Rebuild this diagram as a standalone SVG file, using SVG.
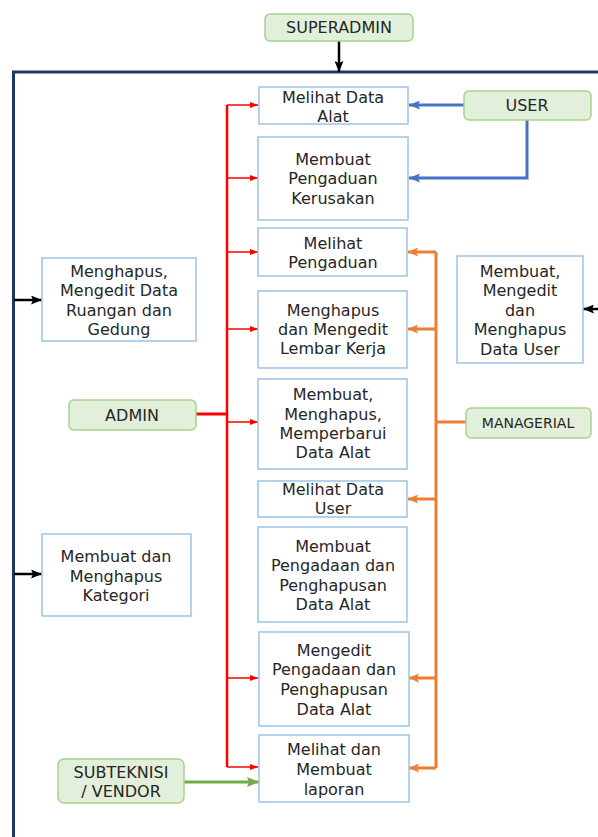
<svg xmlns="http://www.w3.org/2000/svg" width="598" height="837" viewBox="0 0 598 837">
<style>
.box{fill:#fff;stroke:#9dc3e6;stroke-width:1.5}
.act{fill:#e2efda;stroke:#a9d18e;stroke-width:1.5}
text{font-family:"DejaVu Sans","Open Sans",sans-serif;font-size:16px;fill:#262626;text-anchor:middle;dominant-baseline:central}
.red{stroke:#ff0000;fill:none}
.org{stroke:#ed7d31;fill:none;stroke-width:3}
.blu{stroke:#4472c4;fill:none;stroke-width:3}
.blk{stroke:#000;fill:none;stroke-width:2.5}
.grn{stroke:#70ad47;fill:none;stroke-width:3}
</style>
<defs>
<marker id="mr" markerWidth="8" markerHeight="6" refX="8" refY="3" orient="auto" markerUnits="userSpaceOnUse"><path d="M0,0L8,3L0,6z" fill="#ff0000"/></marker>
<marker id="mo" markerWidth="10" markerHeight="9" refX="10" refY="4.5" orient="auto" markerUnits="userSpaceOnUse"><path d="M0,0L10,4.5L0,9L2,4.5z" fill="#ed7d31"/></marker>
<marker id="mb" markerWidth="11" markerHeight="9" refX="11" refY="4.5" orient="auto" markerUnits="userSpaceOnUse"><path d="M0,0L11,4.5L0,9L2,4.5z" fill="#4472c4"/></marker>
<marker id="mk" markerWidth="11" markerHeight="9" refX="11" refY="4.5" orient="auto" markerUnits="userSpaceOnUse"><path d="M0,0L11,4.5L0,9L2,4.5z" fill="#000"/></marker>
<marker id="mg" markerWidth="12" markerHeight="10" refX="12" refY="5" orient="auto" markerUnits="userSpaceOnUse"><path d="M0,0L12,5L0,10L2,5z" fill="#70ad47"/></marker>
</defs>
<rect width="598" height="837" fill="#fff"/>
<g id="connectors">
<path d="M13.5,837V72H598" stroke="#1f3864" stroke-width="3" fill="none"/>
<path class="blk" d="M339,41V72" marker-end="url(#mk)"/>
<path class="blk" d="M14,300H42" marker-end="url(#mk)"/>
<path class="blk" d="M14,574H42" marker-end="url(#mk)"/>
<path class="blk" d="M598,309H583" marker-end="url(#mk)"/>
<path class="blu" d="M464,105H409" marker-end="url(#mb)"/>
<path class="blu" d="M527,120V178H409" marker-end="url(#mb)"/>
<path class="red" stroke-width="3" d="M196,414H227"/>
<path class="red" stroke-width="2.5" d="M227,105V767"/>
<path class="red" stroke-width="1.5" d="M227,105H258" marker-end="url(#mr)"/>
<path class="red" stroke-width="1.5" d="M227,178H258" marker-end="url(#mr)"/>
<path class="red" stroke-width="1.5" d="M227,252H258" marker-end="url(#mr)"/>
<path class="red" stroke-width="1.5" d="M227,329H258" marker-end="url(#mr)"/>
<path class="red" stroke-width="1.5" d="M227,422H258" marker-end="url(#mr)"/>
<path class="red" stroke-width="1.5" d="M227,678H258" marker-end="url(#mr)"/>
<path class="red" stroke-width="1.5" d="M227,767H258" marker-end="url(#mr)"/>
<path class="org" d="M466,422H436"/>
<path class="org" d="M436,252V768"/>
<path class="org" d="M436,252H408" marker-end="url(#mo)"/>
<path class="org" d="M436,329H408" marker-end="url(#mo)"/>
<path class="org" d="M436,499H408" marker-end="url(#mo)"/>
<path class="org" d="M436,678H409" marker-end="url(#mo)"/>
<path class="org" d="M436,768H409" marker-end="url(#mo)"/>
<path class="grn" d="M184,782H259" marker-end="url(#mg)"/>
</g>
<g id="superadmin"><rect class="act" x="265" y="14" width="148" height="27" rx="5"/><text x="339" y="27.5">SUPERADMIN</text></g>
<g id="user"><rect class="act" x="464" y="91" width="127" height="29" rx="5"/><text x="527" y="105.5">USER</text></g>
<g id="admin"><rect class="act" x="69" y="400" width="127" height="30" rx="5"/><text x="132" y="415">ADMIN</text></g>
<g id="managerial"><rect class="act" x="466" y="408" width="125" height="30" rx="5"/><text x="528" y="423" style="font-size:14px">MANAGERIAL</text></g>
<g id="subteknisi"><rect class="act" x="58" y="759" width="126" height="44" rx="6"/><text x="121" y="772">SUBTEKNISI</text><text x="121" y="791">/ VENDOR</text></g>
<g id="melihat-data-alat"><rect class="box" x="259" y="87" width="149" height="37"/><text x="333" y="97">Melihat Data</text><text x="333" y="116">Alat</text></g>
<g id="membuat-pengaduan"><rect class="box" x="258" y="137" width="150" height="83"/><text x="333" y="159">Membuat</text><text x="333" y="178">Pengaduan</text><text x="333" y="198">Kerusakan</text></g>
<g id="melihat-pengaduan"><rect class="box" x="258" y="228" width="149" height="48"/><text x="333" y="243">Melihat</text><text x="333" y="262">Pengaduan</text></g>
<g id="lembar-kerja"><rect class="box" x="258" y="291" width="149" height="77"/><text x="333" y="310">Menghapus</text><text x="333" y="329">dan Mengedit</text><text x="333" y="348">Lembar Kerja</text></g>
<g id="data-alat-crud"><rect class="box" x="258" y="379" width="149" height="90"/><text x="333" y="394">Membuat,</text><text x="333" y="414">Menghapus,</text><text x="333" y="433">Memperbarui</text><text x="333" y="452">Data Alat</text></g>
<g id="melihat-data-user"><rect class="box" x="258" y="481" width="149" height="36"/><text x="333" y="489">Melihat Data</text><text x="333" y="508">User</text></g>
<g id="membuat-pengadaan"><rect class="box" x="258" y="527" width="149" height="95"/><text x="333" y="546">Membuat</text><text x="333" y="565">Pengadaan dan</text><text x="333" y="585">Penghapusan</text><text x="333" y="604">Data Alat</text></g>
<g id="mengedit-pengadaan"><rect class="box" x="259" y="632" width="150" height="94"/><text x="334" y="650">Mengedit</text><text x="334" y="669">Pengadaan dan</text><text x="334" y="689">Penghapusan</text><text x="334" y="709">Data Alat</text></g>
<g id="laporan"><rect class="box" x="259" y="735" width="150" height="67"/><text x="334" y="749">Melihat dan</text><text x="334" y="769">Membuat</text><text x="334" y="789">laporan</text></g>
<g id="ruangan-gedung"><rect class="box" x="42" y="258" width="154" height="83"/><text x="119" y="271">Menghapus,</text><text x="119" y="290">Mengedit Data</text><text x="119" y="310">Ruangan dan</text><text x="119" y="329">Gedung</text></g>
<g id="kategori"><rect class="box" x="42" y="534" width="149" height="82"/><text x="116" y="556">Membuat dan</text><text x="116" y="576">Menghapus</text><text x="116" y="595">Kategori</text></g>
<g id="data-user-crud"><rect class="box" x="457" y="256" width="126" height="107"/><text x="520" y="271">Membuat,</text><text x="520" y="290">Mengedit</text><text x="520" y="310">dan</text><text x="520" y="329">Menghapus</text><text x="520" y="349">Data User</text></g>
</svg>
